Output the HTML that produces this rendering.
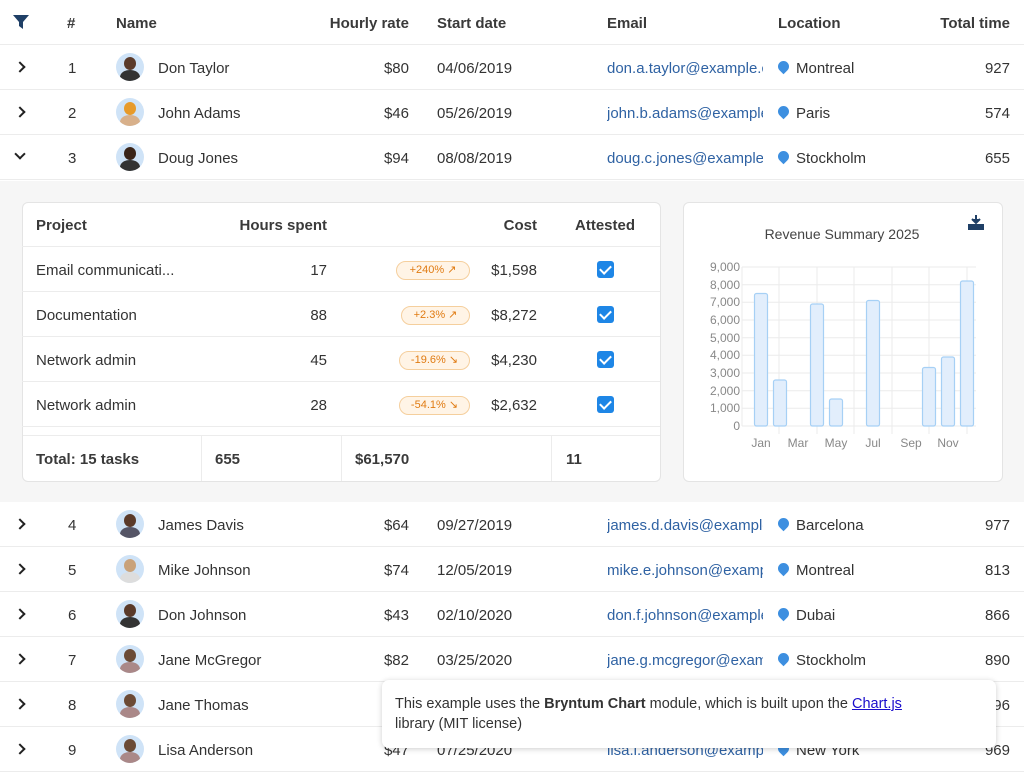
<!DOCTYPE html>
<html><head><meta charset="utf-8"><style>
*{box-sizing:border-box;margin:0;padding:0}
body{width:1024px;height:768px;overflow:hidden;background:#fff;font-family:"Liberation Sans",sans-serif;color:#333;font-size:15px;position:relative}
.a{position:absolute;white-space:nowrap}
.row{position:absolute;left:0;width:1024px;height:45px;border-bottom:1px solid #ececec}
.row .a{top:1px;line-height:45px}
.r{text-align:right}
.em{color:#2f62a3;width:156px;overflow:hidden}
.av{position:absolute;top:8px;left:116px;width:28px;height:28px;border-radius:50%;background:#cfe3f7;overflow:hidden}
.av i{position:absolute;left:8px;top:4px;width:12px;height:13px;border-radius:50%;background:#5a3a2a}
.av b{position:absolute;left:4px;top:17px;width:20px;height:14px;border-radius:50%;background:#333}
.pin{position:absolute;top:16px;left:778px;width:11px;height:11px;background:#3d8fe0;border-radius:50% 50% 50% 0;transform:rotate(-45deg)}
.chev{position:absolute;left:16px;top:18px;width:8px;height:8px;border-top:2px solid #222;border-right:2px solid #222;transform:rotate(45deg)}
.hd{font-weight:bold;color:#3a3a3a}
.card{position:absolute;background:#fff;border:1px solid #e4e4e4;border-radius:6px}
.badge{position:absolute;height:19px;border:1px solid #f5cf9d;background:#fff4e6;color:#e07b12;border-radius:10px;font-size:11px;line-height:17px;text-align:center}
.cb{position:absolute;width:17px;height:17px;background:#1e86e6;border-radius:3px}
.cb:after{content:"";position:absolute;left:5px;top:2px;width:5px;height:9px;border-right:2px solid #fff;border-bottom:2px solid #fff;transform:rotate(45deg)}
.sub{position:absolute;left:22px;width:638px;height:45px;border-bottom:1px solid #ececec}
.sub .a{line-height:45px;top:1px}
</style></head><body>

<div class="row" style="top:0">
<svg class="a" style="left:13px;top:15px" width="16" height="14"><path d="M0 0H16L10 7V14L6 11V7Z" fill="#1f3f66"/></svg>
<span class="a hd" style="left:67px">#</span>
<span class="a hd" style="left:116px">Name</span>
<span class="a hd r" style="right:615px">Hourly rate</span>
<span class="a hd" style="left:437px">Start date</span>
<span class="a hd" style="left:607px">Email</span>
<span class="a hd" style="left:778px">Location</span>
<span class="a hd r" style="right:14px">Total time</span>
</div>

<div class="row" style="top:45px"><div class="chev"></div><span class="a" style="left:68px">1</span><div class="av"><i></i><b></b></div><span class="a" style="left:158px">Don Taylor</span><span class="a r" style="right:615px">$80</span><span class="a" style="left:437px">04/06/2019</span><span class="a em" style="left:607px">don.a.taylor@example.com</span><div class="pin"></div><span class="a" style="left:796px">Montreal</span><span class="a r" style="right:14px">927</span></div>
<div class="row" style="top:90px"><div class="chev"></div><span class="a" style="left:68px">2</span><div class="av"><i style="background:#e79a2a"></i><b style="background:#d8b08a"></b></div><span class="a" style="left:158px">John Adams</span><span class="a r" style="right:615px">$46</span><span class="a" style="left:437px">05/26/2019</span><span class="a em" style="left:607px">john.b.adams@example.com</span><div class="pin"></div><span class="a" style="left:796px">Paris</span><span class="a r" style="right:14px">574</span></div>
<div class="row" style="top:135px"><div class="chev" style="transform:rotate(135deg);top:15px"></div><span class="a" style="left:68px">3</span><div class="av"><i style="background:#3a2418"></i><b></b></div><span class="a" style="left:158px">Doug Jones</span><span class="a r" style="right:615px">$94</span><span class="a" style="left:437px">08/08/2019</span><span class="a em" style="left:607px">doug.c.jones@example.com</span><div class="pin"></div><span class="a" style="left:796px">Stockholm</span><span class="a r" style="right:14px">655</span></div>

<div class="a" style="left:0;top:181px;width:1024px;height:321px;background:#f6f6f6"></div>
<div class="card" style="left:22px;top:202px;width:639px;height:280px;overflow:hidden"></div>
<div class="sub" style="top:202px"><span class="a hd" style="left:14px">Project</span><span class="a hd r" style="right:333px">Hours spent</span><span class="a hd r" style="right:123px">Cost</span><span class="a hd" style="left:553px">Attested</span></div>
<div class="sub" style="top:247px"><span class="a" style="left:14px">Email communicati...</span><span class="a r" style="right:333px">17</span><div class="badge" style="left:374px;top:14px;width:74px">+240% ↗</div><span class="a r" style="right:123px">$1,598</span><div class="cb" style="left:575px;top:14px"></div></div>
<div class="sub" style="top:292px"><span class="a" style="left:14px">Documentation</span><span class="a r" style="right:333px">88</span><div class="badge" style="left:379px;top:14px;width:69px">+2.3% ↗</div><span class="a r" style="right:123px">$8,272</span><div class="cb" style="left:575px;top:14px"></div></div>
<div class="sub" style="top:337px"><span class="a" style="left:14px">Network admin</span><span class="a r" style="right:333px">45</span><div class="badge" style="left:377px;top:14px;width:71px">-19.6% ↘</div><span class="a r" style="right:123px">$4,230</span><div class="cb" style="left:575px;top:14px"></div></div>
<div class="sub" style="top:382px"><span class="a" style="left:14px">Network admin</span><span class="a r" style="right:333px">28</span><div class="badge" style="left:377px;top:14px;width:71px">-54.1% ↘</div><span class="a r" style="right:123px">$2,632</span><div class="cb" style="left:575px;top:14px"></div></div>
<div class="a" style="left:23px;top:435px;width:637px;border-top:1px solid #ececec;height:46px"></div>
<div class="a" style="left:201px;top:435px;height:46px;border-left:1px solid #ececec"></div>
<div class="a" style="left:341px;top:435px;height:46px;border-left:1px solid #ececec"></div>
<div class="a" style="left:551px;top:435px;height:46px;border-left:1px solid #ececec"></div>
<span class="a hd" style="left:36px;top:451px">Total: 15 tasks</span>
<span class="a hd" style="left:215px;top:451px">655</span>
<span class="a hd" style="left:355px;top:451px">$61,570</span>
<span class="a hd" style="left:566px;top:451px">11</span>

<div class="card" style="left:683px;top:202px;width:320px;height:280px"></div>
<svg class="a" style="left:0;top:0" width="1024" height="768" font-family="Liberation Sans, sans-serif">
<path d="M976 215v8M972 219l4 4 4-4M969 225h14v4h-14z" stroke="#1f3f66" stroke-width="2" fill="#1f3f66"/>
<text x="842" y="239" text-anchor="middle" font-size="14" fill="#444">Revenue Summary 2025</text>
<g stroke="#ebebeb" stroke-width="1">
<line x1="742" y1="267" x2="976" y2="267"/><line x1="742" y1="284.7" x2="976" y2="284.7"/><line x1="742" y1="302.3" x2="976" y2="302.3"/><line x1="742" y1="320" x2="976" y2="320"/><line x1="742" y1="337.7" x2="976" y2="337.7"/><line x1="742" y1="355.3" x2="976" y2="355.3"/><line x1="742" y1="373" x2="976" y2="373"/><line x1="742" y1="390.7" x2="976" y2="390.7"/><line x1="742" y1="408.3" x2="976" y2="408.3"/><line x1="742" y1="426" x2="976" y2="426"/>
<line x1="742" y1="267" x2="742" y2="426"/>
<line x1="779" y1="267" x2="779" y2="434"/><line x1="817" y1="267" x2="817" y2="434"/><line x1="854" y1="267" x2="854" y2="434"/><line x1="892" y1="267" x2="892" y2="434"/><line x1="929" y1="267" x2="929" y2="434"/><line x1="967" y1="267" x2="967" y2="434"/>
</g>
<g font-size="12" fill="#888" text-anchor="end">
<text x="740" y="271">9,000</text><text x="740" y="289">8,000</text><text x="740" y="306">7,000</text><text x="740" y="324">6,000</text><text x="740" y="342">5,000</text><text x="740" y="359">4,000</text><text x="740" y="377">3,000</text><text x="740" y="395">2,000</text><text x="740" y="412">1,000</text><text x="740" y="430">0</text>
</g>
<g font-size="12" fill="#888" text-anchor="middle">
<text x="761" y="447">Jan</text><text x="798" y="447">Mar</text><text x="836" y="447">May</text><text x="873" y="447">Jul</text><text x="911" y="447">Sep</text><text x="948" y="447">Nov</text>
</g>
<g fill="#e2eefc" stroke="#a6d0f5" stroke-width="1.2">
<rect x="754.5" y="293.5" width="13" height="132.5" rx="2"/>
<rect x="773.5" y="380" width="13" height="46" rx="2"/>
<rect x="810.5" y="304" width="13" height="122" rx="2"/>
<rect x="829.5" y="399" width="13" height="27" rx="2"/>
<rect x="866.5" y="300.5" width="13" height="125.5" rx="2"/>
<rect x="922.5" y="367.5" width="13" height="58.5" rx="2"/>
<rect x="941.5" y="357" width="13" height="69" rx="2"/>
<rect x="960.5" y="281" width="13" height="145" rx="2"/>
</g>
</svg>

<div class="row" style="top:502px"><div class="chev"></div><span class="a" style="left:68px">4</span><div class="av"><i></i><b style="background:#556"></b></div><span class="a" style="left:158px">James Davis</span><span class="a r" style="right:615px">$64</span><span class="a" style="left:437px">09/27/2019</span><span class="a em" style="left:607px">james.d.davis@example.com</span><div class="pin"></div><span class="a" style="left:796px">Barcelona</span><span class="a r" style="right:14px">977</span></div>
<div class="row" style="top:547px"><div class="chev"></div><span class="a" style="left:68px">5</span><div class="av"><i style="background:#c9a27a"></i><b style="background:#ddd"></b></div><span class="a" style="left:158px">Mike Johnson</span><span class="a r" style="right:615px">$74</span><span class="a" style="left:437px">12/05/2019</span><span class="a em" style="left:607px">mike.e.johnson@example.com</span><div class="pin"></div><span class="a" style="left:796px">Montreal</span><span class="a r" style="right:14px">813</span></div>
<div class="row" style="top:592px"><div class="chev"></div><span class="a" style="left:68px">6</span><div class="av"><i></i><b></b></div><span class="a" style="left:158px">Don Johnson</span><span class="a r" style="right:615px">$43</span><span class="a" style="left:437px">02/10/2020</span><span class="a em" style="left:607px">don.f.johnson@example.com</span><div class="pin"></div><span class="a" style="left:796px">Dubai</span><span class="a r" style="right:14px">866</span></div>
<div class="row" style="top:637px"><div class="chev"></div><span class="a" style="left:68px">7</span><div class="av"><i style="background:#6b4a35"></i><b style="background:#a88"></b></div><span class="a" style="left:158px">Jane McGregor</span><span class="a r" style="right:615px">$82</span><span class="a" style="left:437px">03/25/2020</span><span class="a em" style="left:607px">jane.g.mcgregor@example.com</span><div class="pin"></div><span class="a" style="left:796px">Stockholm</span><span class="a r" style="right:14px">890</span></div>
<div class="row" style="top:682px"><div class="chev"></div><span class="a" style="left:68px">8</span><div class="av"><i style="background:#6b4a35"></i><b style="background:#a88"></b></div><span class="a" style="left:158px">Jane Thomas</span><span class="a r" style="right:14px">996</span></div>
<div class="row" style="top:727px"><div class="chev"></div><span class="a" style="left:68px">9</span><div class="av"><i style="background:#6b4a35"></i><b style="background:#a88"></b></div><span class="a" style="left:158px">Lisa Anderson</span><span class="a r" style="right:615px">$47</span><span class="a" style="left:437px">07/25/2020</span><span class="a em" style="left:607px">lisa.i.anderson@example.com</span><div class="pin"></div><span class="a" style="left:796px">New York</span><span class="a r" style="right:14px">969</span></div>

<div class="a" style="left:382px;top:680px;width:614px;height:68px;background:#fff;border-radius:7px;box-shadow:0 1px 6px rgba(0,0,0,0.2);padding:14px 13px;white-space:nowrap;font-size:14.5px;line-height:20px;color:#333">This example uses the <b>Bryntum Chart</b> module, which is built upon the <span style="color:#1a0dcc;text-decoration:underline">Chart.js</span><br>library (MIT license)</div>
</body></html>
